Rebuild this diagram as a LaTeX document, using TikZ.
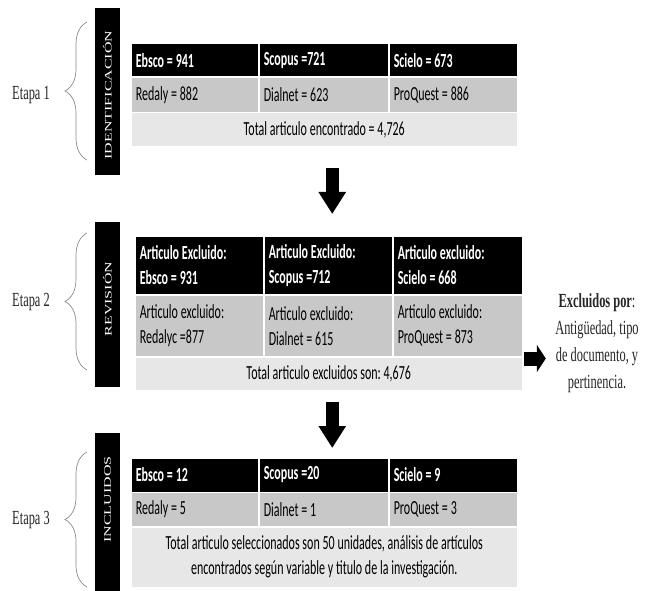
\documentclass[tikz,border=0pt]{standalone}
\usepackage{fontspec}
\usepackage{tikz}
\usetikzlibrary{arrows.meta,decorations.pathreplacing}
\newfontfamily\calib[FakeStretch=0.6]{Carlito}
\newfontfamily\serifn[FakeStretch=0.62]{Liberation Serif}
\newfontfamily\vertf[FakeStretch=1.6]{Liberation Serif}
\definecolor{rowmid}{RGB}{200,200,200}
\definecolor{rowlow}{RGB}{231,231,231}
\tikzset{
	cell/.style     = {draw=white, line width=1.5pt, rectangle, anchor=north west,
		inner xsep=5pt, inner ysep=0pt, align=left,
		font=\calib\fontsize{20}{25}\selectfont,
		execute at begin node={\spaceskip=2.8pt\relax\xspaceskip=2.8pt\relax}},
	head/.style     = {cell, fill=black, text=white,
		font=\calib\bfseries\fontsize{20}{25}\selectfont},
	mid/.style      = {cell, fill=rowmid},
	total/.style    = {cell, fill=rowlow, align=center},
	bar/.style      = {fill=black, anchor=north west, inner sep=0pt, minimum width=25pt},
	bartext/.style  = {text=white, rotate=90, inner sep=0pt,
		font=\vertf\fontsize{10}{12}\selectfont},
	etapa/.style    = {text=black!85, font=\serifn\fontsize{20}{27}\selectfont,
		execute at begin node={\spaceskip=3.1pt\relax\xspaceskip=3.1pt\relax}},
	curly/.style    = {decorate, decoration={brace, amplitude=22pt},
		draw=black!45, line width=0.7pt},
	bigarrow/.style = {line width=13pt, -{Triangle[width=26pt,length=22pt]}},
	sidearrow/.style = {line width=14pt, -{Triangle[width=27pt,length=9pt]}}
}

\begin{document}
\begin{tikzpicture}[x=1pt, y=-1pt]
	\fill[white] (0,0) rectangle (651,591);
	\useasboundingbox (0,0) rectangle (651,591);

	% etapa 1
	\node at (130,43) [head, text width=118pt, minimum height=33.5pt] (e1) {Ebsco = 941};
	\node at (258,43) [head, text width=120pt, minimum height=33.5pt] (s1) {Scopus =721};
	\node at (388,43) [head, text width=119pt, minimum height=33.5pt] (c1) {Scielo = 673};
	\node at (130,76.5) [mid, text width=118pt, minimum height=35.5pt] (r1) {Redaly = 882};
	\node at (258,76.5) [mid, text width=120pt, minimum height=35.5pt] (d1) {Dialnet = 623};
	\node at (388,76.5) [mid, text width=119pt, minimum height=35.5pt] (p1) {ProQuest = 886};
	\node at (130,112) [total, text width=377pt, minimum height=34pt] (t1) {Total articulo encontrado = 4,726};

	% etapa 2
	\node at (134,235) [head, text width=119pt, minimum height=59pt] (e2) {Articulo Excluido:\\Ebsco = 931};
	\node at (263,235) [head, text width=119pt, minimum height=59pt] (s2) {Articulo Excluido:\\Scopus =712};
	\node at (392,235) [head, text width=120pt, minimum height=59pt] (c2) {Articulo excluido:\\Scielo = 668};
	\node at (134,294) [mid, text width=119pt, minimum height=62pt] (r2) {Articulo excluido:\\Redalyc =877};
	\node at (263,294) [mid, text width=119pt, minimum height=62pt] (d2) {Articulo excluido:\\Dialnet = 615};
	\node at (392,294) [mid, text width=120pt, minimum height=62pt] (p2) {Articulo excluido:\\ProQuest = 873};
	\node at (134,356) [total, text width=378pt, minimum height=34pt] (t2) {Total articulo excluidos son: 4,676};

	% etapa 3
	\node at (130,457) [head, text width=118pt, minimum height=34.5pt] (e3) {Ebsco = 12};
	\node at (258,457) [head, text width=120pt, minimum height=34.5pt] (s3) {Scopus =20};
	\node at (388,457) [head, text width=119pt, minimum height=34.5pt] (c3) {Scielo = 9};
	\node at (130,491.5) [mid, text width=118pt, minimum height=34.5pt] (r3) {Redaly = 5};
	\node at (258,491.5) [mid, text width=120pt, minimum height=34.5pt] (d3) {Dialnet = 1};
	\node at (388,491.5) [mid, text width=119pt, minimum height=34.5pt] (p3) {ProQuest = 3};
	\node at (130,526) [total, text width=377pt, minimum height=61pt] (t3) {Total articulo seleccionados son 50 unidades, análisis de artículos\\encontrados según variable y titulo de la investigación.};

	% barras y etapas
	\node at (95,8) [bar, minimum height=167pt] (bar1) {};
	\node at (95,222) [bar, minimum height=165pt] (bar2) {};
	\node at (95,433) [bar, minimum height=158pt] (bar3) {};
	\node at (107.5,95) [bartext] (id) {IDENTIFICACIÓN};
	\node at (107.5,299) [bartext] (rev) {REVISIÓN};
	\node at (107.5,499.5) [bartext] (inc) {INCLUIDOS};
	\node at (31,95) [etapa] (et1) {Etapa 1};
	\node at (31,302) [etapa] (et2) {Etapa 2};
	\node at (31,520) [etapa] (et3) {Etapa 3};
	\draw[curly] (87,160) -- (87,22);
	\draw[curly] (87,370) -- (87,233);
	\draw[curly] (87,587) -- (87,452);

	\node at (597,343.5) [etapa, align=center] (excl) {\textbf{Excluidos por}:\\Antigüedad, tipo\\de documento, y\\pertinencia.};

	% flechas
	\coordinate (a1) at ([xshift=8pt]t1.south);
	\coordinate (a2) at ([xshift=3.5pt]t2.south);
	\draw[bigarrow, shorten <=21pt, shorten >=21pt] (a1) -- (a1 |- s2.north);
	\draw[bigarrow, shorten <=10pt, shorten >=9pt] (a2) -- (a2 |- e3.north);
	\draw[sidearrow, shorten >=6pt] ([yshift=-1pt]p2.south east) -- ([yshift=-1pt]p2.south east -| excl.west);
\end{tikzpicture}
\end{document}
